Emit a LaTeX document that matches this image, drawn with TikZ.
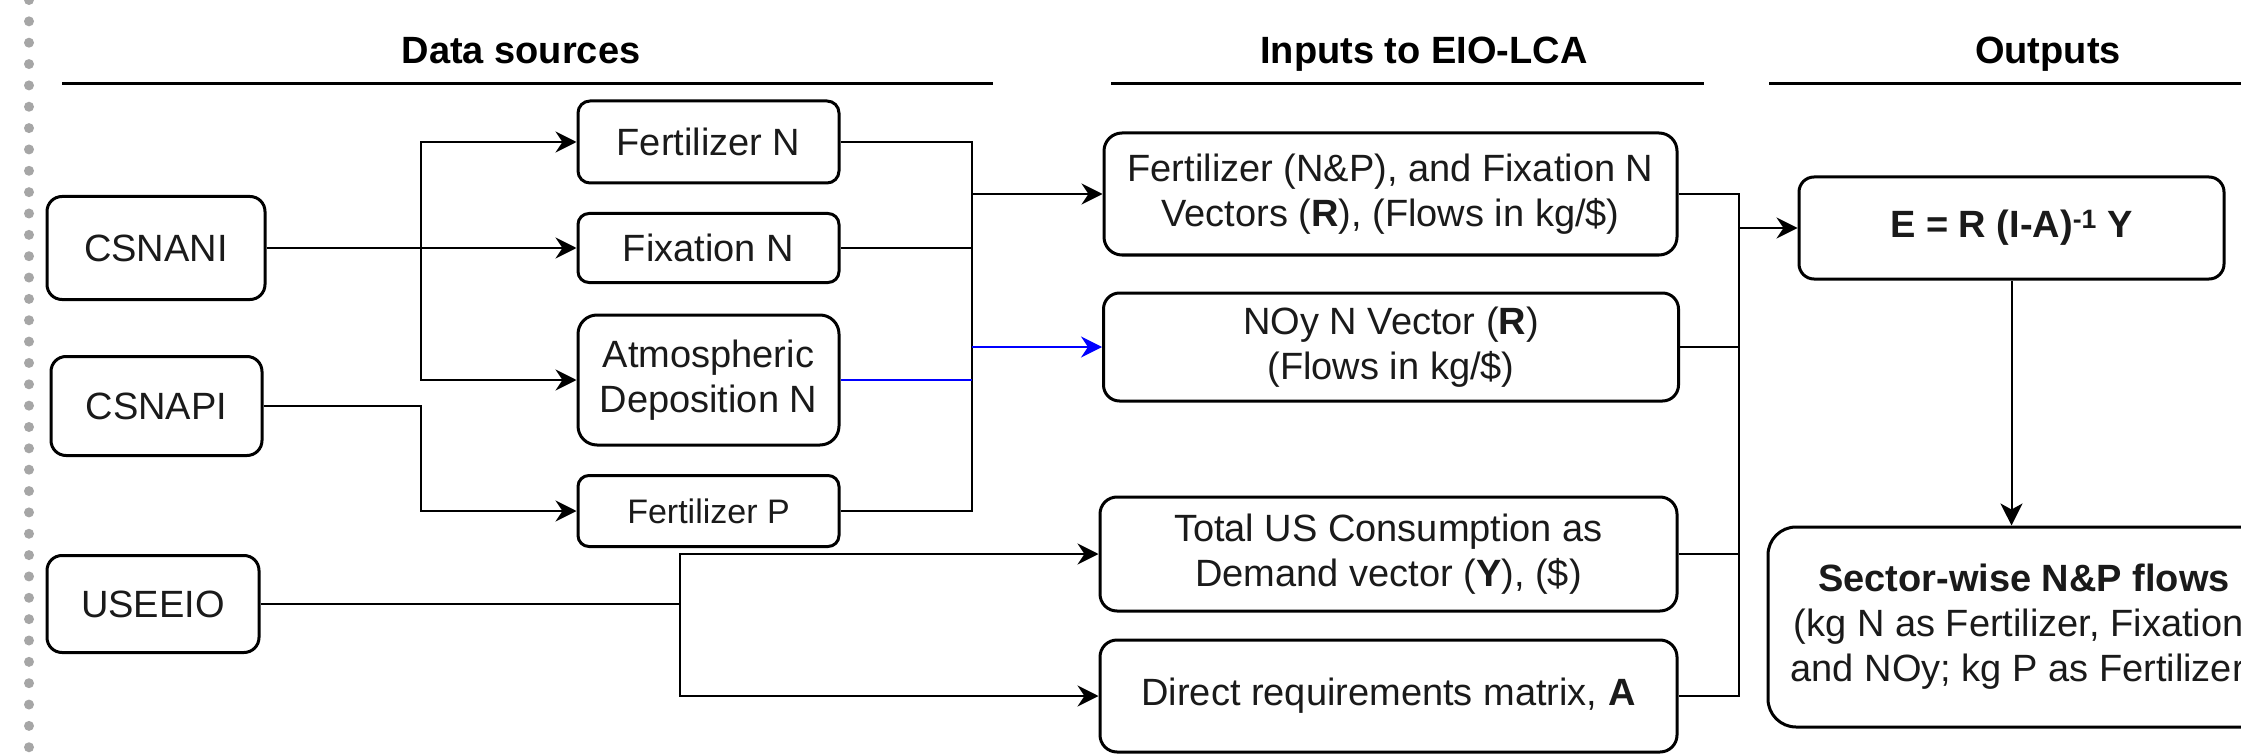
\documentclass[tikz,border=0pt]{standalone}
\usepackage{fontspec}
\setmainfont{Liberation Sans}
\usetikzlibrary{arrows.meta}
\definecolor{dotgray}{HTML}{A6A6A6}
\definecolor{flowblue}{HTML}{0000FF}
\definecolor{ink}{HTML}{1A1A1A}
\tikzset{
  box/.style={draw=black, line width=3pt, inner sep=0pt, align=center,
    font=\fontsize{38}{45}\selectfont, text=ink},
  hdr/.style={anchor=base, inner sep=0pt, font=\bfseries\fontsize{38}{45}\selectfont, text=black},
  rule/.style={draw=black, line width=3pt},
  ln/.style={draw=black, line width=2.8pt},
  arr/.style={ln, -{Stealth[length=21pt,width=21pt,inset=7pt]}},
  blueln/.style={draw=flowblue, line width=2.6pt},
  bluearr/.style={blueln, -{Stealth[length=21pt,width=21pt,inset=7pt]}},
  thinarr/.style={draw=black, line width=2pt, -{Stealth[length=22pt,width=22pt,inset=6pt]}}
}
\begin{document}
\begin{tikzpicture}[x=1pt,y=-1pt]
\useasboundingbox (0,0) rectangle (2241,754);
\begin{scope}
\clip (0,0) rectangle (2241,754);
\fill[white] (0,0) rectangle (2241,754);
% dotted left border
\foreach \k in {0,...,35} \fill[dotgray] (29,{21.35*\k}) circle (5);
% headers
\node[hdr] (hds) at (521,64) {Data sources};
\node[hdr] (hin) at (1424,64) {Inputs to EIO-LCA};
\node[hdr] (hout) at (2048,64) {Outputs};
\draw[rule] (62,84) -- (993,84);
\draw[rule] (1111,84) -- (1704,84);
\draw[rule] (1769,84) -- (2260,84);
% data sources
\node[box, minimum width=218pt, minimum height=103pt, rounded corners=15pt] (csnani) at (156,248) {CSNANI};
\node[box, minimum width=211pt, minimum height=99pt, rounded corners=15pt] (csnapi) at (156.5,406) {CSNAPI};
\node[box, minimum width=212pt, minimum height=97pt, rounded corners=15pt] (useeio) at (153,604) {USEEIO};
\node[box, minimum width=261pt, minimum height=82pt, rounded corners=12pt] (fertn) at (708.5,142) {Fertilizer N};
\node[box, minimum width=261pt, minimum height=69pt, rounded corners=11pt] (fixn) at (708.5,248) {Fixation N};
\node[box, minimum width=261pt, minimum height=130pt, rounded corners=19pt] (atm) at (708.5,380) {Atmospheric\\Deposition N};
\node[box, minimum width=261pt, minimum height=71pt, rounded corners=11pt, font=\fontsize{34}{40}\selectfont] (fertp) at (708.5,511) {Fertilizer P};
% inputs
\node[box, minimum width=573pt, minimum height=122pt, rounded corners=18pt] (fertnp) at (1390.5,194) {Fertilizer (N\&P), and Fixation N\\Vectors (\textbf{R}), (Flows in kg/\$)};
\node[box, minimum width=575pt, minimum height=108pt, rounded corners=16pt] (noy) at (1391,347) {NOy N Vector (\textbf{R})\\(Flows in kg/\$)};
\node[box, minimum width=577pt, minimum height=114pt, rounded corners=17pt] (total) at (1388.5,554) {Total US Consumption as\\Demand vector (\textbf{Y}), (\$)};
\node[box, minimum width=577pt, minimum height=112pt, rounded corners=17pt] (direct) at (1388.5,696) {Direct requirements matrix, \textbf{A}};
% outputs
\node[box, minimum width=425pt, minimum height=102pt, rounded corners=15pt, font=\bfseries\fontsize{38}{45}\selectfont] (eq) at (2011.5,228) {E = R (I-A)\textsuperscript{-1} Y};
\node[box, minimum width=512pt, minimum height=200pt, rounded corners=28pt] (sector) at (2024,627) {\textbf{Sector-wise N\&P flows}\\(kg N as Fertilizer, Fixation,\\and NOy; kg P as Fertilizer)};
% junction points
\coordinate (j1) at (421,248);
\coordinate (j3) at (972,194);
\coordinate (j4) at (680,604);
\coordinate (j5) at (1739,228);
% connectors: sources -> data
\draw[ln] (csnani.east) -- (j1);
\draw[arr] (j1) -- (fixn.west);
\draw[arr] (j1) |- (fertn.west);
\draw[arr] (j1) |- (atm.west);
\draw[arr] (csnapi.east) -- (csnapi.east -| j1) |- (fertp.west);
% data -> inputs
\draw[ln] (fertn.east) -| (fertp.east -| j3) -- (fertp.east);
\draw[ln] (fixn.east) -- (fixn.east -| j3);
\draw[blueln] (atm.east) -- (atm.east -| j3);
\draw[arr] (j3) -- (fertnp.west);
\draw[bluearr] (noy.west -| j3) -- (noy.west);
% USEEIO
\draw[ln] (useeio.east) -- (j4);
\draw[arr] (j4) |- (total.west);
\draw[arr] (j4) |- (direct.west);
% inputs -> equation
\draw[ln] (fertnp.east) -| (direct.east -| j5) -- (direct.east);
\draw[ln] (noy.east) -- (noy.east -| j5);
\draw[ln] (total.east) -- (total.east -| j5);
\draw[arr] (j5) -- (eq.west);
\draw[thinarr] (eq.south) -- (eq.south |- sector.north);
\end{scope}
\end{tikzpicture}
\end{document}
